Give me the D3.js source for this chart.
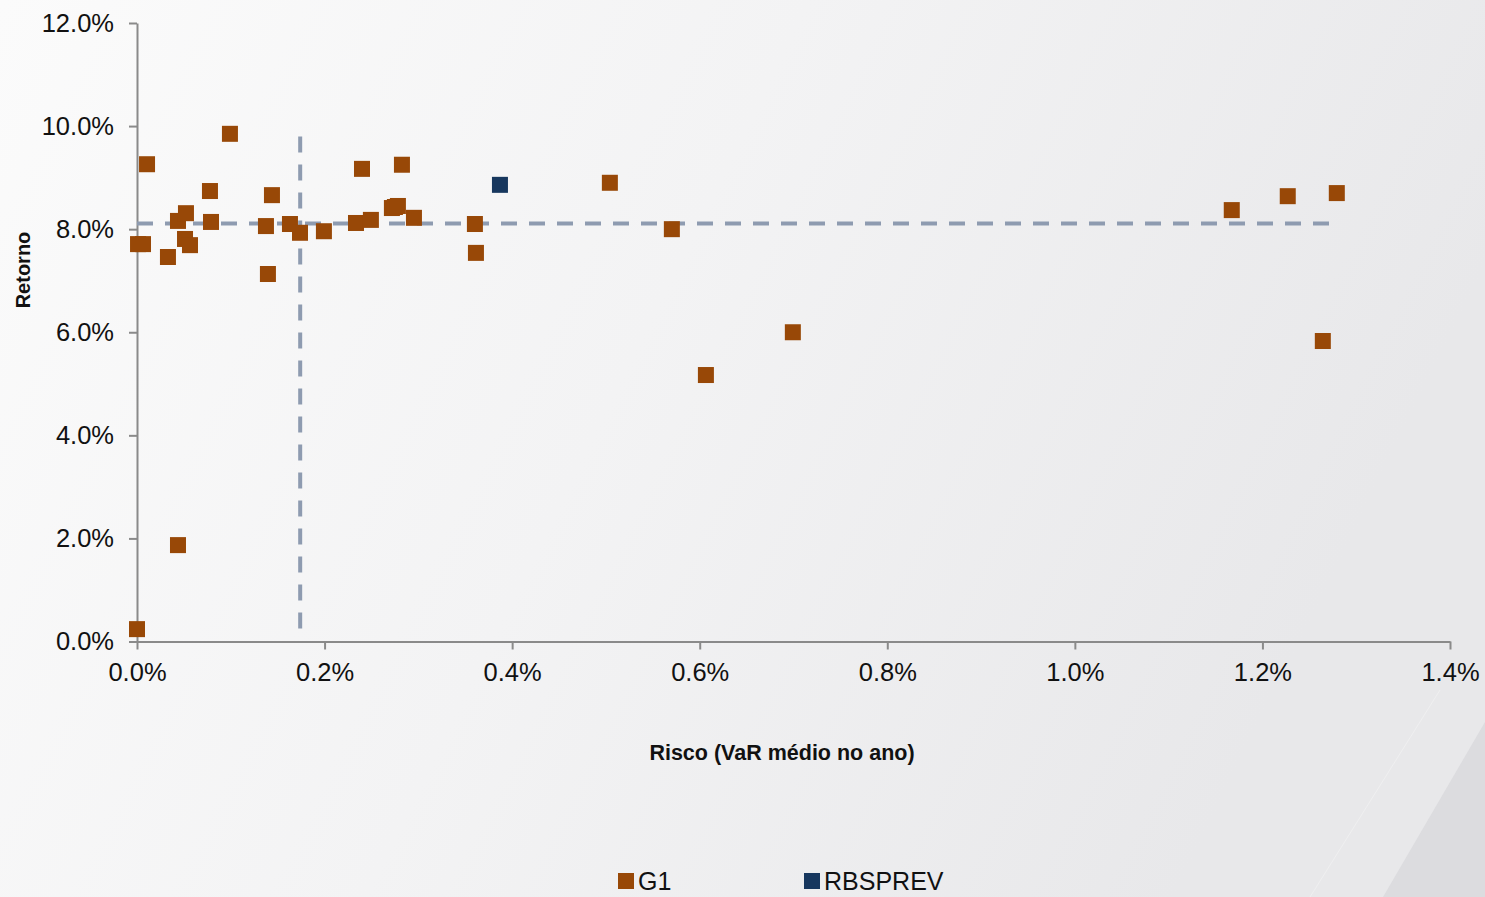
<!DOCTYPE html>
<html>
<head>
<meta charset="utf-8">
<script src="https://cdn.jsdelivr.net/npm/d3@7"></script>
<style>
  html, body { margin: 0; padding: 0; background: #f7f7f8; }
  svg { display: block; }
</style>
</head>
<body>
<svg id="chart" width="1485" height="897"></svg>
<script>
// ---- data (Risco = VaR médio no ano, %, Retorno = %) ----
const g1Risk = [0.0000, 0.0011, 0.0064, 0.0107, 0.0991, 0.0330, 0.0437, 0.0522, 0.0512, 0.0565,
                0.0778, 0.0789, 0.1375, 0.1396, 0.1439, 0.1631, 0.1738, 0.1993, 0.2335, 0.2494,
                0.2399, 0.2825, 0.2718, 0.2750, 0.2782, 0.2953, 0.3603, 0.3614, 0.5042, 0.5703,
                0.6066, 0.6993, 1.1673, 1.2270, 1.2793, 1.2644, 0.0437];
const g1Return = [0.24, 7.71, 7.71, 9.26, 9.85, 7.46, 8.16, 8.31, 7.81, 7.69,
                  8.74, 8.14, 8.06, 7.13, 8.66, 8.10, 7.93, 7.96, 8.12, 8.18,
                  9.17, 9.25, 8.41, 8.43, 8.45, 8.22, 8.10, 7.54, 8.90, 8.00,
                  5.17, 6.00, 8.37, 8.64, 8.70, 5.83, 1.87];
const rbsRisk = [0.3870];
const rbsReturn = [8.86];
const avgRisk = 0.174;     // vertical dashed line
const avgReturn = 8.11;    // horizontal dashed line
const xTicks = [0, 0.2, 0.4, 0.6, 0.8, 1.0, 1.2, 1.4];
const yTicks = [0, 2, 4, 6, 8, 10, 12];
const seriesNames = ["G1", "RBSPREV"];
const seriesColors = ["#984807", "#17375E"];

const svg = d3.select("#chart");
const W = 1485, H = 897;

// ---- background ----
const defs = svg.append("defs");
const grad = defs.append("linearGradient").attr("id", "bg").attr("x1", "0").attr("y1", "0").attr("x2", "1").attr("y2", "0.3");
grad.append("stop").attr("offset", "0").attr("stop-color", "#fbfbfb");
grad.append("stop").attr("offset", "0.5").attr("stop-color", "#f3f3f4");
grad.append("stop").attr("offset", "1").attr("stop-color", "#e8e8ea");
svg.append("rect").attr("width", W).attr("height", H).attr("fill", "url(#bg)");
svg.append("path").attr("d", "M1485,722 L1485,897 L1383,897 Z").attr("fill", "#dcdcdf");
svg.append("path").attr("d", "M1440,690 L1310,897").attr("stroke", "#efeff0").attr("stroke-width", 1).attr("fill", "none");

// ---- scales ----
const x = d3.scaleLinear().domain([0, 1.4]).range([137, 1450]);
const y = d3.scaleLinear().domain([0, 12]).range([641.5, 23]);

const fmt = d => d.toFixed(1) + "%";
const axisColor = "#8a8a8a";

// y axis
const yAxis = svg.append("g").attr("transform", `translate(${x(0)},0)`)
  .call(d3.axisLeft(y).tickValues(yTicks).tickFormat(fmt).tickSize(8).tickSizeOuter(0).tickPadding(15));
// x axis
const xAxis = svg.append("g").attr("transform", `translate(0,${y(0)})`)
  .call(d3.axisBottom(x).tickValues(xTicks).tickFormat(fmt).tickSize(8).tickSizeOuter(0).tickPadding(13));

[yAxis, xAxis].forEach(g => {
  g.select(".domain").attr("stroke", axisColor).attr("stroke-width", 2);
  g.selectAll(".tick line").attr("stroke", axisColor).attr("stroke-width", 2);
  g.selectAll(".tick text").attr("fill", "#111").attr("font-family", "Liberation Sans, Arial, sans-serif").attr("font-size", "25.5px");
});

// ---- mean lines ----
const dashColor = "#8e9bb0";
svg.append("line")
  .attr("x1", x(0)).attr("x2", x(d3.max(g1Risk)))
  .attr("y1", y(avgReturn)).attr("y2", y(avgReturn))
  .attr("stroke", dashColor).attr("stroke-width", 4).attr("stroke-dasharray", "16,12");
svg.append("line")
  .attr("x1", x(avgRisk)).attr("x2", x(avgRisk))
  .attr("y1", y(9.80)).attr("y2", y(d3.min(g1Return)))
  .attr("stroke", dashColor).attr("stroke-width", 4).attr("stroke-dasharray", "16,12");

// ---- markers ----
const m = 16;
const g1Data = g1Risk.map((r, i) => ({ r, v: g1Return[i] }));
const rbsData = rbsRisk.map((r, i) => ({ r, v: rbsReturn[i] }));
svg.append("g").selectAll("rect").data(g1Data).join("rect")
  .attr("x", d => x(d.r) - m / 2).attr("y", d => y(d.v) - m / 2)
  .attr("width", m).attr("height", m).attr("fill", seriesColors[0]);
svg.append("g").selectAll("rect").data(rbsData).join("rect")
  .attr("x", d => x(d.r) - m / 2).attr("y", d => y(d.v) - m / 2)
  .attr("width", m).attr("height", m).attr("fill", seriesColors[1]);

// ---- axis titles ----
svg.append("text").attr("x", 782).attr("y", 760).attr("text-anchor", "middle")
  .attr("font-family", "Liberation Sans, Arial, sans-serif").attr("font-weight", "bold").attr("font-size", "21.5px")
  .attr("fill", "#111").text("Risco (VaR médio no ano)");
svg.append("text").attr("transform", "translate(30,270) rotate(-90)").attr("text-anchor", "middle")
  .attr("font-family", "Liberation Sans, Arial, sans-serif").attr("font-weight", "bold").attr("font-size", "20px")
  .attr("fill", "#111").text("Retorno");

// ---- legend ----
const legX = [618, 804];
const leg = svg.append("g");
seriesNames.forEach((name, i) => {
  leg.append("rect").attr("x", legX[i]).attr("y", 873).attr("width", 16).attr("height", 16).attr("fill", seriesColors[i]);
  leg.append("text").attr("x", legX[i] + 20).attr("y", 890)
    .attr("font-family", "Liberation Sans, Arial, sans-serif").attr("font-size", "25px").attr("fill", "#111").text(name);
});
</script>
</body>
</html>
